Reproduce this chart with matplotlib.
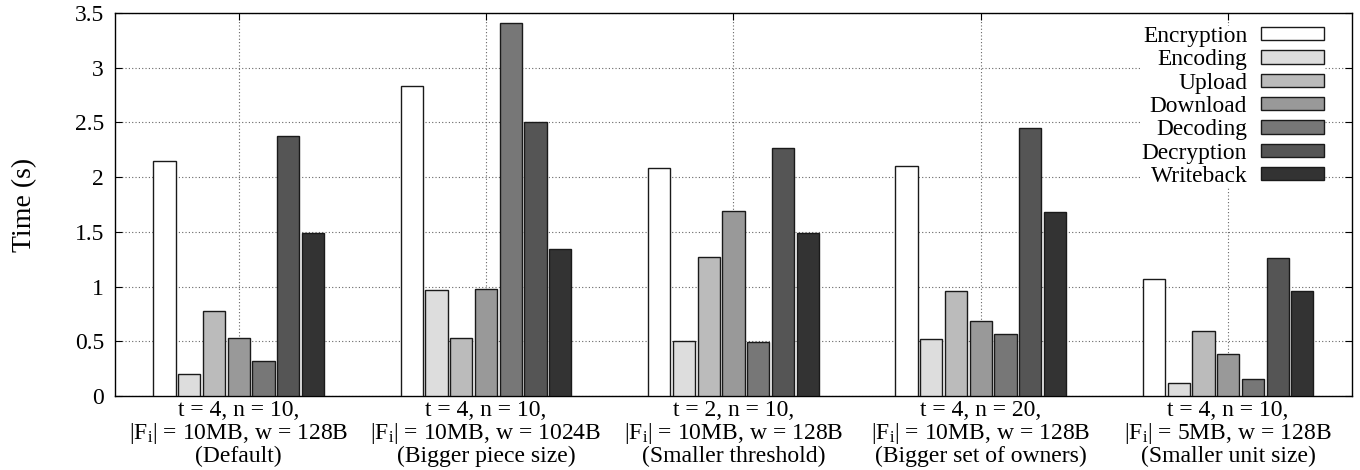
import numpy as np
from matplotlib import pyplot as plt

plt.rcParams['font.family'] = 'Liberation Serif'
plt.rcParams['mathtext.fontset'] = 'custom'
plt.rcParams['mathtext.rm'] = 'Liberation Serif'
plt.rcParams['mathtext.it'] = 'Liberation Serif:italic'

# Data
groups = [r't = 4, n = 10,' '\n' r'|F$_{\rm i}$| = 10MB, w = 128B' '\n' '(Default)',
          r't = 4, n = 10,' '\n' r'|F$_{\rm i}$| = 10MB, w = 1024B' '\n' '(Bigger piece size)',
          r't = 2, n = 10,' '\n' r'|F$_{\rm i}$| = 10MB, w = 128B' '\n' '(Smaller threshold)',
          r't = 4, n = 20,' '\n' r'|F$_{\rm i}$| = 10MB, w = 128B' '\n' '(Bigger set of owners)',
          r't = 4, n = 10,' '\n' r'|F$_{\rm i}$| = 5MB, w = 128B' '\n' '(Smaller unit size)']
stages = ['Encryption', 'Encoding', 'Upload', 'Download', 'Decoding', 'Decryption', 'Writeback']

encryption = [2.15, 2.83, 2.08, 2.10, 1.065]
encoding   = [0.205, 0.965, 0.50, 0.52, 0.12]
upload     = [0.78, 0.527, 1.27, 0.96, 0.59]
download   = [0.527, 0.977, 1.69, 0.69, 0.385]
decoding   = [0.317, 3.41, 0.49, 0.57, 0.16]
decryption = [2.38, 2.50, 2.27, 2.45, 1.265]
writeback  = [1.486, 1.34, 1.49, 1.68, 0.96]
series = [encryption, encoding, upload, download, decoding, decryption, writeback]

colors = ['#ffffff', '#dddddd', '#bbbbbb', '#999999', '#777777', '#555555', '#333333']

fig = plt.figure(figsize=(13.6, 4.7), dpi=100)
ax = fig.add_axes([0.0846, 0.1574, 0.9094, 0.8149])

x = np.arange(len(groups))
slot = 0.1
for i, vals in enumerate(series):
    ax.bar(x + (i - 3) * slot, vals, width=0.09, color=colors[i],
           edgecolor='#1a1a1a', linewidth=1.0, label=stages[i], zorder=3)

ax.set_xlim(-0.5, len(groups) - 0.5)
ax.set_ylim(0, 3.5)
ax.set_yticks(np.arange(0, 3.51, 0.5))
ax.set_yticklabels(['0', '0.5', '1', '1.5', '2', '2.5', '3', '3.5'])
ax.set_xticks(x)
ax.set_xticklabels(groups, linespacing=1.0, fontsize=16.5)
ax.tick_params(direction='in', top=True, right=True, length=5, labelsize=17, pad=3)
ax.tick_params(axis='y', pad=8)
ax.grid(True, linestyle=(0, (1, 2)), color='#666666', linewidth=0.8, zorder=0)
ax.set_axisbelow(True)
ax.set_ylabel('Time (s)', fontsize=20, labelpad=27)
for s in ax.spines.values():
    s.set_linewidth(1.0)

leg = ax.legend(loc='upper right', bbox_to_anchor=(0.987, 0.997), markerfirst=False,
                fontsize=16.8, frameon=True, fancybox=False, framealpha=1,
                edgecolor='none', handlelength=2.7, handleheight=0.5,
                labelspacing=0.1, handletextpad=0.6, borderpad=0.0)
for t in leg.get_texts():
    t.set_ha('right')

fig.savefig('out.png', dpi=100)
